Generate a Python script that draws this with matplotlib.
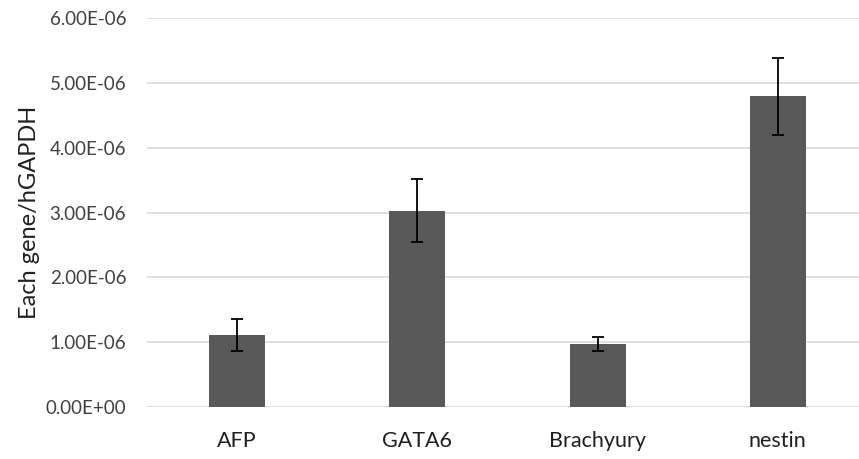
import matplotlib.pyplot as plt

# Gene expression relative to hGAPDH
genes = ["AFP", "GATA6", "Brachyury", "nestin"]
means = [1.11e-6, 3.03e-6, 0.97e-6, 4.79e-6]
errors = [0.24e-6, 0.48e-6, 0.11e-6, 0.60e-6]
yticks = [0, 1e-6, 2e-6, 3e-6, 4e-6, 5e-6, 6e-6]
ytick_labels = ["0.00E+00", "1.00E-06", "2.00E-06", "3.00E-06",
                "4.00E-06", "5.00E-06", "6.00E-06"]

plt.rcParams['font.family'] = ['Lato', 'DejaVu Sans']

fig = plt.figure(figsize=(8.59, 4.59), dpi=100)
ax = fig.add_axes([147 / 859, 1 - 407 / 459, 721 / 859, 389 / 459])

x = range(len(genes))
ax.bar(x, means, width=0.31, color="#595959", zorder=2,
       yerr=errors, capsize=4,
       error_kw=dict(ecolor="black", elinewidth=1.3, capthick=1.3))

ax.set_xlim(-0.5, 3.5)
ax.set_ylim(0, 6e-6)
ax.set_yticks(yticks)
ax.set_yticklabels(ytick_labels, fontsize=13.5, color="#404040")
ax.set_xticks(list(x))
ax.set_xticklabels(genes, fontsize=15.5, color="#202020")
ax.tick_params(axis="both", length=0)
ax.tick_params(axis="y", pad=15)
ax.tick_params(axis="x", pad=17)

ax.yaxis.grid(True, color="#d9d9d9", linewidth=1.2, zorder=0)
ax.set_axisbelow(True)
for s in ax.spines.values():
    s.set_visible(False)

ax.set_ylabel("Each gene/hGAPDH", fontsize=17, color="#202020", labelpad=4)

fig.savefig("out.png", dpi=100)
